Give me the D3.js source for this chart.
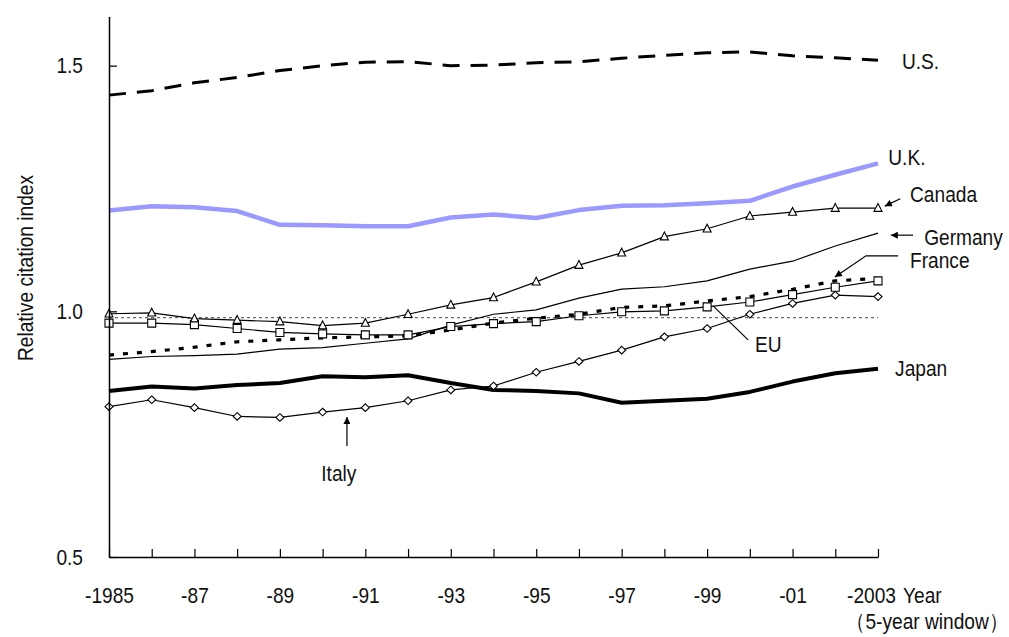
<!DOCTYPE html>
<html><head><meta charset="utf-8">
<script src="https://cdn.jsdelivr.net/npm/d3@7"></script>
<style>
html,body{margin:0;padding:0;background:#fff;}
svg{display:block;}
text{font-family:'Liberation Sans','Arial',sans-serif;font-size:22px;fill:#111;}
</style></head>
<body>
<script>
// ---- data ----
const years = ["1985","1986","1987","1988","1989","1990","1991","1992","1993","1994","1995","1996","1997","1998","1999","2000","2001","2002","2003"];
const xTickLabels = ["-1985","","-87","","-89","","-91","","-93","","-95","","-97","","-99","","-01","","-2003"];
const yTicks = [0.5, 1.0, 1.5];
const us      = [1.440,1.449,1.465,1.476,1.490,1.500,1.507,1.508,1.500,1.501,1.506,1.508,1.515,1.521,1.526,1.528,1.520,1.516,1.511];
const uk      = [1.205,1.214,1.212,1.204,1.176,1.175,1.173,1.173,1.191,1.197,1.190,1.206,1.215,1.216,1.220,1.225,1.254,1.278,1.301];
const canada  = [0.995,0.997,0.985,0.982,0.979,0.971,0.976,0.994,1.013,1.028,1.060,1.094,1.119,1.152,1.168,1.194,1.202,1.210,1.210];
const germany = [0.902,0.908,0.910,0.913,0.923,0.926,0.935,0.944,0.972,0.994,1.003,1.027,1.045,1.050,1.062,1.086,1.102,1.133,1.159];
const france  = [0.911,0.918,0.927,0.938,0.942,0.946,0.948,0.950,0.962,0.976,0.986,0.994,1.008,1.011,1.021,1.030,1.045,1.062,1.067];
const eu      = [0.976,0.976,0.973,0.965,0.957,0.954,0.952,0.952,0.969,0.975,0.979,0.991,0.999,1.001,1.009,1.019,1.034,1.049,1.062];
const japan   = [0.838,0.847,0.843,0.850,0.854,0.868,0.866,0.870,0.854,0.840,0.838,0.833,0.814,0.818,0.822,0.836,0.857,0.874,0.883];
const italy   = [0.806,0.820,0.804,0.786,0.784,0.795,0.804,0.818,0.840,0.848,0.876,0.898,0.921,0.948,0.965,0.994,1.016,1.033,1.030];
const reference = [0.987,0.987];

// ---- layout ----
const W = 1009, H = 637;
const CONDENSE = 0.87;
const svg = d3.select("body").append("svg").attr("width", W).attr("height", H);
const x = d3.scaleLinear().domain([0, years.length - 1]).range([109, 878]);
const y = d3.scaleLinear().domain([0.5, 1.6]).range([557, 16.5]);

const defs = svg.append("defs");
defs.append("marker").attr("id","arr").attr("viewBox","0 0 10 10").attr("refX",10).attr("refY",5)
  .attr("markerWidth",9).attr("markerHeight",7).attr("markerUnits","userSpaceOnUse").attr("orient","auto")
  .append("path").attr("d","M0,0L10,5L0,10Z").attr("fill","#000");

const line = d3.line().x((d,i)=>x(i)).y(d=>y(d));

// reference dashed line
svg.append("line").attr("x1", x(0)).attr("x2", x(years.length-1))
  .attr("y1", y(reference[0])).attr("y2", y(reference[1]))
  .attr("stroke","#444").attr("stroke-width",1).attr("stroke-dasharray","3,3");

function drawLine(data, opts){
  svg.append("path").datum(data).attr("d", line).attr("fill","none")
    .attr("stroke", opts.color || "#000").attr("stroke-width", opts.w || 1)
    .attr("stroke-dasharray", opts.dash || null).attr("stroke-linejoin","round");
}
drawLine(germany, {w:1.2});
drawLine(italy, {w:1.2});
drawLine(eu, {w:1.2});
drawLine(canada, {w:1.2});
drawLine(france, {w:3.2, dash:"5,9"});
drawLine(japan, {w:4});
drawLine(uk, {w:4.5, color:"#9999ff"});
drawLine(us, {w:3, dash:"17,11"});

function drawMarkers(data, shape){
  svg.append("g").selectAll("path").data(data).join("path")
    .attr("transform",(d,i)=>`translate(${x(i)},${y(d)})`)
    .attr("d", shape).attr("fill","#fff").attr("stroke","#000").attr("stroke-width",1.1);
}
drawMarkers(italy, "M0,-3.8L4,0L0,3.8L-4,0Z");
drawMarkers(eu, "M-4,-4H4V4H-4Z");
drawMarkers(canada, "M0,-4.6L4,3.2L-4,3.2Z");

// ---- axes ----
const xAxis = d3.axisBottom(x).tickValues(d3.range(years.length))
  .tickFormat(i => xTickLabels[i]).tickSizeInner(-8).tickSizeOuter(0).tickPadding(30);
const gx = svg.append("g").attr("transform", `translate(0,${y(0.5)})`).call(xAxis);
gx.select(".domain").attr("stroke","#000").attr("stroke-width",1.5);
gx.selectAll(".tick line").attr("stroke","#000").attr("stroke-width",1.2);
gx.selectAll("text").style("font-size","22px").attr("fill","#111")
  .attr("dx", (d,i)=> i === years.length-1 ? -8 : 0);

const yAxis = d3.axisLeft(y).tickValues(yTicks).tickFormat(d3.format(".1f"))
  .tickSizeInner(-8).tickSizeOuter(0).tickPadding(26);
const gy = svg.append("g").attr("transform", `translate(${x(0)},0)`).call(yAxis);
gy.select(".domain").attr("stroke","#000").attr("stroke-width",1.5);
gy.selectAll(".tick line").attr("stroke","#000").attr("stroke-width",1.2);
gy.selectAll("text").style("font-size","22px").attr("fill","#111");

svg.append("text").attr("class","rot").attr("transform","translate(33,268) rotate(-90)")
  .attr("text-anchor","middle").text("Relative citation index");
svg.append("text").attr("x", 903).attr("y", 603).text("Year");
svg.append("text").attr("x", 846).attr("y", 629).text("（5-year window）");

// ---- series labels & pointers (positioned in data units) ----
const labels = [
  {t:"U.S.",    i:18.56, v:1.510, a:"start"},
  {t:"U.K.",    i:18.24, v:1.314, a:"start"},
  {t:"Canada",  i:18.75, v:1.239, a:"start"},
  {t:"Germany", i:19.08, v:1.151, a:"start"},
  {t:"France",  i:18.75, v:1.105, a:"start"},
  {t:"EU",      i:15.12, v:0.934, a:"start"},
  {t:"Japan",   i:18.40, v:0.885, a:"start"},
  {t:"Italy",   i:5.38,  v:0.671, a:"middle"}
];
svg.append("g").selectAll("text").data(labels).join("text")
  .attr("x", d=>x(d.i)).attr("y", d=>y(d.v)).attr("dy","0.36em")
  .attr("text-anchor", d=>d.a).text(d=>d.t);

const pointers = [
  {pts:[[18.52,1.229],[18.16,1.214]], head:true},
  {pts:[[18.82,1.155],[18.30,1.155]], head:true},
  {pts:[[18.47,1.113],[17.72,1.113],[16.99,1.070]], head:true},
  {pts:[[14.96,0.942],[14.14,1.011]], head:false},
  {pts:[[5.57,0.726],[5.57,0.785]], head:true}
];
const pl = d3.line().x(d=>x(d[0])).y(d=>y(d[1]));
svg.append("g").selectAll("path").data(pointers).join("path")
  .attr("d", d=>pl(d.pts)).attr("fill","none").attr("stroke","#000").attr("stroke-width",1.2)
  .attr("marker-end", d=>d.head ? "url(#arr)" : null);

// condense all text horizontally around its anchor (the original uses a narrow typeface)
svg.selectAll("text").each(function(){
  const t = d3.select(this);
  const tr = t.attr("transform");
  if (tr) {
    t.attr("transform", tr + ` scale(${CONDENSE},1)`);
  } else {
    const ax = +(t.attr("x") || 0);
    t.attr("transform", `translate(${ax},0) scale(${CONDENSE},1) translate(${-ax},0)`);
  }
});
</script>
</body></html>
